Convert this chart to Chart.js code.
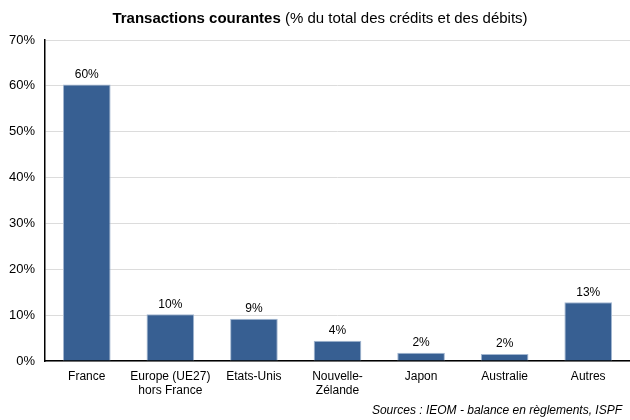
<!DOCTYPE html>
<html lang="fr">
<head>
<meta charset="UTF-8">
<title>Transactions courantes</title>
<script src="https://cdn.jsdelivr.net/npm/chart.js"></script>
<style>
  html, body { margin: 0; padding: 0; background: #fff; }
  #wrap { width: 630px; height: 420px; position: relative; }
</style>
</head>
<body>
<div id="wrap"><canvas id="graf"></canvas></div>
<script>
// pays / zones partenaires
const categories = [
    "France",
    ["Europe (UE27)", "hors France"],
    "Etats-Unis",
    ["Nouvelle-", "Zélande"],
    "Japon",
    "Australie",
    "Autres"
];
// part dans le total des crédits et des débits (%)
const parts = [60.3, 10.2, 9.2, 4.4, 1.8, 1.5, 12.8];
const yTicks = [0, 10, 20, 30, 40, 50, 60, 70];

const titreGras = "Transactions courantes";
const titreNormal = " (% du total des crédits et des débits)";
const sourceTxt = "Sources : IEOM - balance en règlements, ISPF";

const police = "'Liberation Sans Narrow', 'Liberation Sans', Arial, sans-serif";

// titre, etiquettes de valeur et source dessines a la main
const decor = {
    id: "decor",
    afterDatasetsDraw(chart) {
        const ctx = chart.ctx;
        ctx.save();
        // valeurs au-dessus des barres
        const meta = chart.getDatasetMeta(0);
        ctx.fillStyle = "#000";
        ctx.font = "12px " + police;
        ctx.textAlign = "center";
        ctx.textBaseline = "bottom";
        meta.data.forEach((bar, i) => {
            ctx.fillText(Math.round(parts[i]) + "%", bar.x, bar.y - 4);
        });
        // titre (partie grasse + partie normale)
        ctx.textBaseline = "middle";
        ctx.textAlign = "left";
        ctx.font = "bold 15px " + police;
        const w1 = ctx.measureText(titreGras).width;
        ctx.font = "15px " + police;
        const w2 = ctx.measureText(titreNormal).width;
        const x0 = 320 - (w1 + w2) / 2;
        ctx.font = "bold 15px " + police;
        ctx.fillText(titreGras, x0, 19);
        ctx.font = "15px " + police;
        ctx.fillText(titreNormal, x0 + w1, 19);
        // source
        ctx.font = "italic 12px " + police;
        ctx.textAlign = "right";
        ctx.fillText(sourceTxt, 622, 411);
        ctx.restore();
    }
};

new Chart(document.getElementById("graf"), {
    type: "bar",
    data: {
        labels: categories,
        datasets: [{
            data: parts,
            backgroundColor: "#375f92",
            borderColor: "#a3b7d1",
            borderWidth: 1,
            categoryPercentage: 1,
            barPercentage: 0.57
        }]
    },
    options: {
        responsive: true,
        maintainAspectRatio: false,
        animation: false,
        layout: { padding: { top: 40, right: 0, left: 0, bottom: 0 } },
        plugins: {
            legend: { display: false },
            tooltip: { enabled: false }
        },
        scales: {
            x: {
                grid: { display: false, drawTicks: false },
                border: { color: "#000", width: 1.5 },
                ticks: {
                    color: "#000",
                    font: { family: police, size: 12 },
                    padding: 8,
                    maxRotation: 0,
                    autoSkip: false
                },
                afterFit(axis) { axis.height = 59; }
            },
            y: {
                min: 0,
                max: 70,
                afterBuildTicks(axis) { axis.ticks = yTicks.map(v => ({ value: v })); },
                grid: { color: "#dcdcdc", lineWidth: 1, drawTicks: false },
                border: { color: "#000", width: 1.5 },
                ticks: {
                    color: "#000",
                    font: { family: police, size: 13 },
                    padding: 10,
                    callback: v => v + "%"
                },
                afterFit(axis) { axis.width = 45; }
            }
        }
    },
    plugins: [decor]
});
</script>
</body>
</html>
